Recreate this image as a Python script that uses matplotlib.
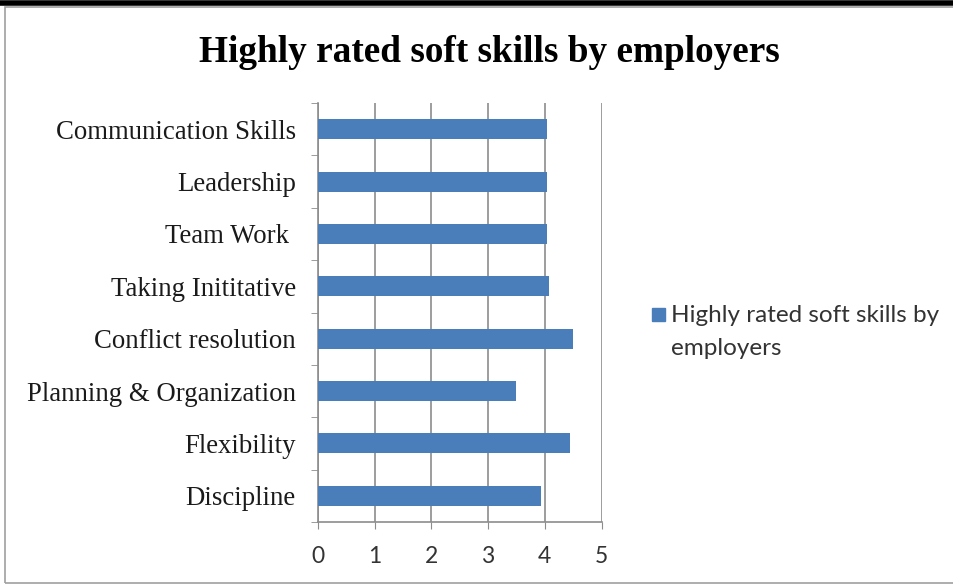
import matplotlib.pyplot as plt
from matplotlib.patches import Rectangle
from matplotlib.lines import Line2D

skills = ["Communication Skills", "Leadership", "Team Work ", "Taking Inititative",
          "Conflict resolution", "Planning & Organization", "Flexibility", "Discipline"]
ratings = [4.04, 4.04, 4.04, 4.08, 4.49, 3.50, 4.44, 3.94]
series_name = "Highly rated soft skills by\nemployers"

BLUE = "#4A7EBB"
GRID = "#8C8C8C"

fig = plt.figure(figsize=(9.54, 5.86), dpi=100)
fig.patch.set_facecolor("white")

# outer rule and chart frame
fig.add_artist(Line2D([0, 1], [0.995, 0.995], color="black", lw=4,
                      transform=fig.transFigure))
fig.add_artist(Rectangle((5 / 954, 3 / 586), 1.2, 576 / 586, fill=False,
                         edgecolor="#A0A0A0", lw=1.2, transform=fig.transFigure))

ax = fig.add_axes([318 / 954, 64 / 586, 283.5 / 954, 419 / 586])
pos = list(range(len(skills)))[::-1]
ax.barh(pos, ratings, height=0.38, color=BLUE, zorder=3)

ax.set_xlim(0, 5)
ax.set_ylim(-0.5, len(skills) - 0.5)
ax.set_xticks(range(6))
ax.set_yticks(pos)
ax.set_yticklabels(skills, family="Liberation Serif", fontsize=19.3, color="#1a1a1a")
ax.set_yticks([p - 0.5 for p in range(len(skills) + 1)], minor=True)
ax.tick_params(axis="y", which="major", length=0, pad=16)
ax.tick_params(axis="y", which="minor", length=5, color=GRID, direction="out")
ax.tick_params(axis="x", length=5, color=GRID, direction="out", pad=12,
               labelsize=16.5, labelcolor="#333333")
for t in ax.get_xticklabels():
    t.set_family("Lato")

ax.grid(axis="x", color=GRID, lw=1.2, zorder=0)
for s in ["top", "right"]:
    ax.spines[s].set_visible(False)
for s in ["left", "bottom"]:
    ax.spines[s].set_color(GRID)
    ax.spines[s].set_linewidth(1.2)

fig.text(489 / 954, 1 - 53 / 586, "Highly rated soft skills by employers",
         ha="center", va="center", family="Liberation Serif", weight="bold",
         fontsize=26.8)

# legend: square key plus two-line label
fig.add_artist(Rectangle((652 / 954, 1 - 321 / 586), 13 / 954, 13 / 586,
                         color=BLUE, transform=fig.transFigure))
fig.text(671 / 954, 1 - 305 / 586, series_name, ha="left", va="top",
         family="Lato", fontsize=17.5, color="#333333", linespacing=1.7)

fig.savefig("out.png", dpi=100)
